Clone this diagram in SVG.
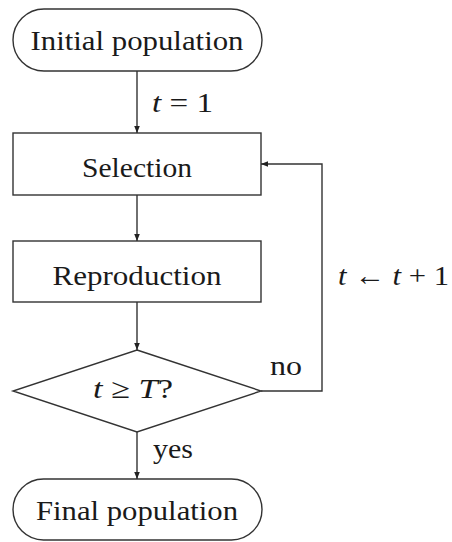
<svg xmlns="http://www.w3.org/2000/svg" width="452" height="542" viewBox="0 0 452 542">
<defs>
<marker id="ah" viewBox="0 0 10 10" refX="10" refY="5" markerWidth="7" markerHeight="7" orient="auto" markerUnits="userSpaceOnUse">
<path d="M0,1 L10,5 L0,9 Z" fill="#222"/>
</marker>
<style>
.shape{fill:#fff;stroke:#333;stroke-width:1.4}
.conn{fill:none;stroke:#333;stroke-width:1.4;marker-end:url(#ah)}
text{font-family:"Liberation Serif","DejaVu Serif",serif;font-size:28px;fill:#1a1a1a}
.c{text-anchor:middle}
.i{font-style:italic}
</style>
</defs>
<rect width="452" height="542" fill="#fff"/>
<g id="initial">
<rect class="shape" x="13" y="9" width="249" height="62" rx="31" ry="31"/>
<text class="c" x="137" y="50" textLength="213" lengthAdjust="spacingAndGlyphs">Initial population</text>
</g>
<g id="selection">
<rect class="shape" x="13" y="133" width="248" height="62"/>
<text class="c" x="137" y="177" textLength="110" lengthAdjust="spacingAndGlyphs">Selection</text>
</g>
<g id="reproduction">
<rect class="shape" x="13" y="241" width="248" height="61"/>
<text class="c" x="137" y="285" textLength="169" lengthAdjust="spacingAndGlyphs">Reproduction</text>
</g>
<g id="decision">
<polygon class="shape" points="137,350 261,391 137,432 13,391"/>
<text x="93" y="398" textLength="80" lengthAdjust="spacingAndGlyphs"><tspan class="i">t</tspan> ≥ <tspan class="i">T</tspan>?</text>
</g>
<g id="final">
<rect class="shape" x="13" y="479" width="249" height="61" rx="30.5" ry="30.5"/>
<text class="c" x="137" y="520" textLength="202" lengthAdjust="spacingAndGlyphs">Final population</text>
</g>
<g id="connectors">
<line class="conn" x1="137" y1="71" x2="137" y2="133"/>
<line class="conn" x1="137" y1="195" x2="137" y2="241"/>
<line class="conn" x1="137" y1="302" x2="137" y2="350"/>
<line class="conn" x1="137" y1="432" x2="137" y2="479"/>
<polyline class="conn" points="261,391 322,391 322,164 261,164"/>
<text x="152" y="112" textLength="61" lengthAdjust="spacingAndGlyphs"><tspan class="i">t</tspan> = 1</text>
<text x="153" y="458" textLength="40" lengthAdjust="spacingAndGlyphs">yes</text>
<text x="270" y="375" textLength="32" lengthAdjust="spacingAndGlyphs">no</text>
<text x="338" y="285" textLength="111" lengthAdjust="spacingAndGlyphs"><tspan class="i">t</tspan> ← <tspan class="i">t</tspan> + 1</text>
</g>
</svg>
